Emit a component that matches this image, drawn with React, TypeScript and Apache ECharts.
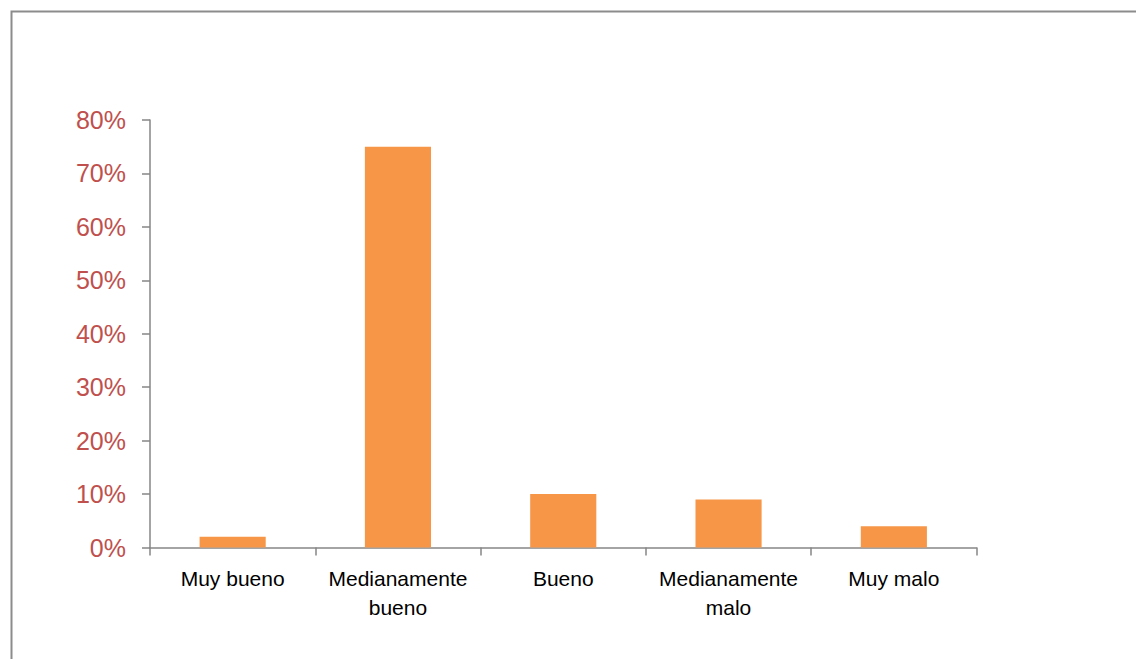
import React, { useEffect, useRef } from "react";
import * as echarts from "echarts";

// Survey answers and their share of responses (%)
const categories: string[] = [
  "Muy bueno",
  "Medianamente\nbueno",
  "Bueno",
  "Medianamente\nmalo",
  "Muy malo",
];
const shares: number[] = [2, 75, 10, 9, 4];

const yMin = 0;
const yMax = 80;
const yStep = 10;

const AXIS_GREY = "#868686";
const FONT = "'Liberation Sans', Arial, sans-serif";

export default function App() {
  const ref = useRef<HTMLDivElement>(null);

  useEffect(() => {
    if (!ref.current) return;
    const chart = echarts.init(ref.current, undefined, { renderer: "svg" });
    chart.setOption({
      animation: false,
      backgroundColor: "#ffffff",
      graphic: [
        {
          type: "rect",
          left: 9,
          top: 9,
          shape: { x: 0, y: 0, width: 1200, height: 700 },
          style: { fill: "none", stroke: "#8c8c8c", lineWidth: 2 },
          silent: true,
        },
      ],
      grid: {
        left: 150,
        right: 159.5,
        top: 120,
        bottom: 111.5,
        containLabel: false,
      },
      xAxis: {
        type: "category",
        data: categories,
        boundaryGap: true,
        axisLine: { show: true, lineStyle: { color: AXIS_GREY, width: 1.5 } },
        axisTick: {
          show: true,
          alignWithLabel: false,
          length: 8,
          lineStyle: { color: AXIS_GREY, width: 1.5 },
        },
        axisLabel: {
          interval: 0,
          margin: 16,
          color: "#000000",
          fontFamily: FONT,
          fontSize: 21,
          lineHeight: 29,
        },
        splitLine: { show: false },
      },
      yAxis: {
        type: "value",
        min: yMin,
        max: yMax,
        interval: yStep,
        axisLine: { show: true, lineStyle: { color: AXIS_GREY, width: 1.5 } },
        axisTick: {
          show: true,
          length: 8,
          lineStyle: { color: AXIS_GREY, width: 1.5 },
        },
        axisLabel: {
          formatter: "{value}%",
          margin: 24,
          color: "#c0504d",
          fontFamily: FONT,
          fontSize: 25,
        },
        splitLine: { show: false },
      },
      series: [
        {
          type: "bar",
          data: shares,
          barWidth: "40%",
          itemStyle: { color: "#f79646" },
        },
      ],
    });
    return () => chart.dispose();
  }, []);

  return (
    <div
      ref={ref}
      style={{ position: "fixed", left: 0, top: 0, width: 1136, height: 659 }}
    />
  );
}
